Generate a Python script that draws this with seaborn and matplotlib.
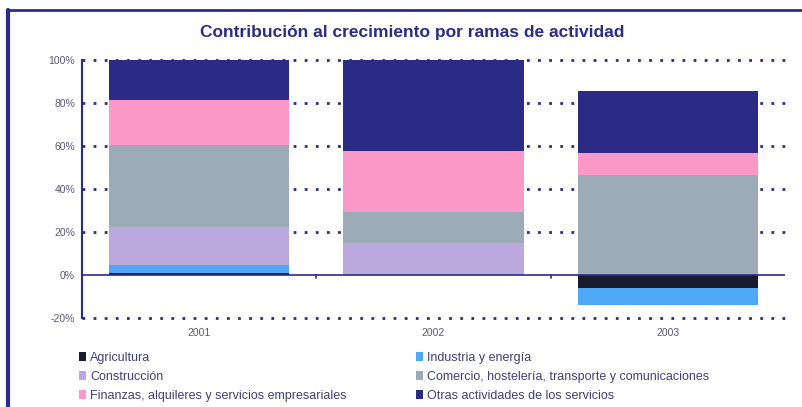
import matplotlib
matplotlib.use("Agg")
import matplotlib.pyplot as plt
import seaborn as sns
import pandas as pd
import numpy as np
from matplotlib.patches import Patch
from matplotlib.lines import Line2D

years = ["2001", "2002", "2003"]
agricultura = [1.0, 0.0, -5.9]
industria = [3.5, 0.0, -8.2]
construccion = [17.9, 15.0, 0.0]
comercio = [38.2, 14.4, 46.7]
finanzas = [20.9, 28.5, 10.1]
otras = [18.5, 42.1, 28.7]

series_names = ["Agricultura", "Industria y energía", "Construcción",
                "Comercio, hostelería, transporte y comunicaciones",
                "Finanzas, alquileres y servicios empresariales",
                "Otras actividades de los servicios"]
series_vals = [agricultura, industria, construccion, comercio, finanzas, otras]
colors = ["#1b1b2f", "#4fa8f5", "#bba9dd", "#9dabb7", "#fc98c8", "#2b2b86"]

yticks = [-20, 0, 20, 40, 60, 80, 100]
ytick_labels = ["-20%", "0%", "20%", "40%", "60%", "80%", "100%"]

navy = "#2b2b8a"
textc = "#40407a"

sns.set_theme(style="white")
plt.rcParams['font.family'] = ['Liberation Sans', 'DejaVu Sans']

fig = plt.figure(figsize=(8.03, 4.07), dpi=100)
ax = fig.add_axes([82/803, 1-318/407, (785-82)/803, (318-60)/407])

pos_bottom = np.zeros(len(years))
neg_bottom = np.zeros(len(years))
for name, vals, col in zip(series_names, series_vals, colors):
    vals = np.array(vals, dtype=float)
    bottoms = np.where(vals >= 0, pos_bottom, neg_bottom)
    df = pd.DataFrame({"year": years, "val": vals})
    sns.barplot(data=df, x="year", y="val", bottom=bottoms, color=col,
                width=0.77, ax=ax, linewidth=0, saturation=1, zorder=3)
    pos_bottom = pos_bottom + np.where(vals > 0, vals, 0)
    neg_bottom = neg_bottom + np.where(vals < 0, vals, 0)

ax.set_xlim(-0.5, 2.5)
ax.set_ylim(-20, 100)
ax.set_yticks(yticks)
ax.set_yticklabels(ytick_labels)
ax.set_xlabel("")
ax.set_ylabel("")
for y in yticks:
    if y != 0:
        ax.axhline(y, color=navy, linestyle=(0, (1, 3.0)), linewidth=2.0,
                   zorder=1, clip_on=False)
ax.axhline(0, color=navy, linewidth=1.2, zorder=4)
for s in ["top", "right", "bottom"]:
    ax.spines[s].set_visible(False)
ax.spines["left"].set_color(navy)
ax.spines["left"].set_linewidth(1.5)
ax.tick_params(axis="y", colors=navy, labelcolor="#5a5a7a", labelsize=7.5,
               length=4, direction="inout", width=1.2, pad=3)
ax.tick_params(axis="x", length=0, labelcolor="#5a5a7a", labelsize=7.5, pad=7)
for xb in [0.5, 1.5]:
    ax.plot([xb, xb], [0, -1.5], color=navy, linewidth=1.2, zorder=4, clip_on=False)

fig.text(0.513, 1-33/407, "Contribución al crecimiento por ramas de actividad",
         ha="center", va="center", fontsize=12.5, fontweight="bold", color=navy)

# frame lines
fig.add_artist(Line2D([8/803, 8/803], [0, 1-10/407], color=navy, linewidth=3,
                      transform=fig.transFigure))
fig.add_artist(Line2D([8/803, 1], [1-10/407, 1-10/407], color=navy, linewidth=2,
                      transform=fig.transFigure))

def add_leg(idx, x0):
    handles = [Patch(facecolor=colors[i], edgecolor="none") for i in idx]
    labels = [series_names[i] for i in idx]
    leg = fig.legend(handles, labels, loc="upper left",
                     bbox_to_anchor=(x0/803, 1-352/407), frameon=False, fontsize=9,
                     handlelength=0.55, handleheight=0.7, handletextpad=0.35,
                     labelspacing=0.55, borderpad=0, borderaxespad=0,
                     labelcolor=textc)
    return leg

add_leg([0, 2, 4], 79)
add_leg([1, 3, 5], 416)

fig.savefig("out.png", dpi=100)
